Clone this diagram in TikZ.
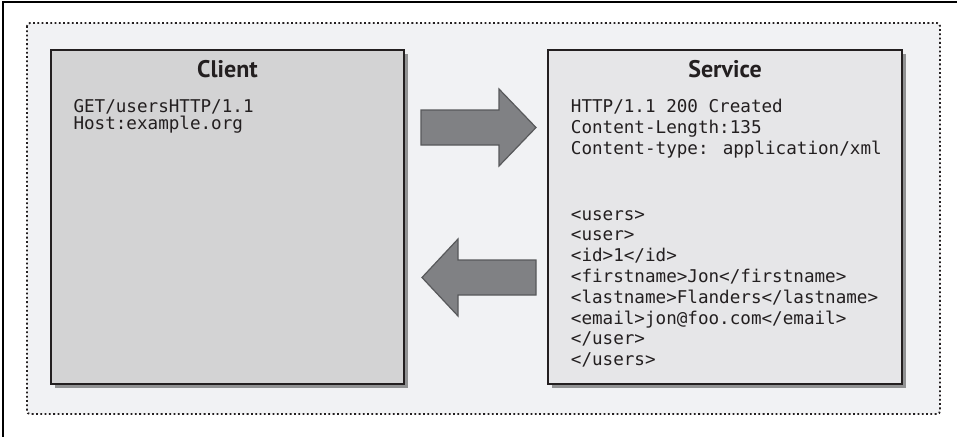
\documentclass[tikz,border=0pt]{standalone}
\usepackage{fontspec}
\setmainfont{PT Sans}
\newfontfamily\codefont{DejaVu Sans Mono}
\usetikzlibrary{shadows}

\definecolor{fondzone}{HTML}{F1F2F4}
\definecolor{fondclient}{HTML}{D3D3D4}
\definecolor{fondservice}{HTML}{E6E6E8}
\definecolor{trait}{HTML}{231F20}
\definecolor{flechefond}{HTML}{808184}
\definecolor{flechetrait}{HTML}{58595B}

\begin{document}
\begin{tikzpicture}[x=1pt,y=-1pt]
		\tikzstyle{zone}=[draw=trait,line width=1.8pt,dash pattern=on 1.8pt off 2.5pt,fill=fondzone,rounded corners=3pt]
		\tikzstyle{boite}=[draw=trait,line width=2.4pt,outer sep=0pt,anchor=north west,minimum height=334pt,
			drop shadow={shadow xshift=4pt,shadow yshift=-4pt,fill=black!80,opacity=.5}]
		\tikzstyle{titre}=[font=\fontsize{24}{24}\selectfont\bfseries,text=trait,anchor=base,inner sep=0pt]
		\tikzstyle{code}=[font=\codefont\fontsize{17.6}{17.6}\selectfont,text=trait,anchor=base west,inner sep=0pt]
		\tikzstyle{grossefleche}=[draw=flechetrait,fill=flechefond,line width=1.2pt,line join=miter]
		
		\def\Interligne{20.8}
		\def\DebutXml{220}
		
		\useasboundingbox (0,0) rectangle (957,437);
		\draw[line width=1.6pt] (957,2) -- (3,2) -- (3,437);
		\draw[zone] (27,23) rectangle (940,414);
		
		\node[boite,fill=fondclient,minimum width=353pt] (client) at (51,50) {};
		\node[boite,fill=fondservice,minimum width=354pt] (service) at (548,50) {};
		
		\node[titre] (titreclient) at (227.5,77.3) {Client};
		\node[titre] (titreservice) at (725,77.3) {Service};
		
		\node[code] (requete1) at (73.3,112.7) {GET/usersHTTP/1.1};
		\node[code] (requete2) at (73.3,129.3) {Host:example.org};
		
		\foreach \ligne [count=\i from 0] in {HTTP/1.1 200 Created,Content-Length:135,Content-type: application/xml}
			\node[code] (entete\i) at (570.7,{112.7+\i*\Interligne}) {\ligne};
		\foreach \ligne [count=\i from 0] in {<users>,<user>,<id>1</id>,<firstname>Jon</firstname>,
			<lastname>Flanders</lastname>,<email>jon@foo.com</email>,</user>,</users>}
			\node[code] (xml\i) at (570.7,{\DebutXml+\i*\Interligne}) {\ligne};
		
		% requete et reponse
		\draw[grossefleche] (421,110) -- (499,110) -- (499,89) -- (536,127.5) -- (499,166) -- (499,145) -- (421,145) -- cycle;
		\draw[grossefleche] (536,260) -- (458,260) -- (458,239) -- (422,277.5) -- (458,316) -- (458,295) -- (536,295) -- cycle;
	\end{tikzpicture}
\end{document}
